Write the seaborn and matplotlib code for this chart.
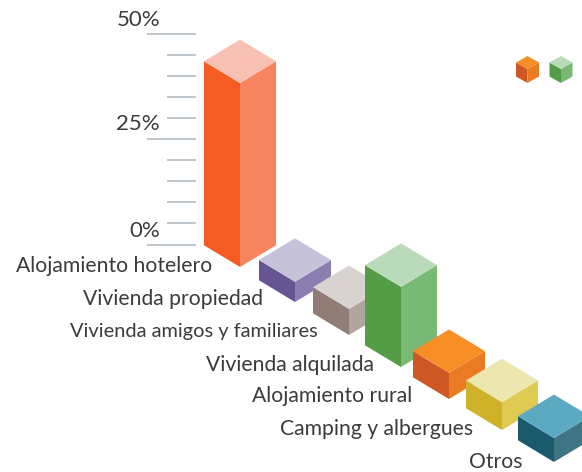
import matplotlib
matplotlib.use('Agg')
import matplotlib.pyplot as plt
from matplotlib.transforms import Affine2D
import pandas as pd
import seaborn as sns

# Values (percent)
categorias = ['Alojamiento hotelero', 'Vivienda propiedad', 'Vivienda amigos y familiares',
              'Vivienda alquilada', 'Alojamiento rural', 'Camping y albergues', 'Otros']
valores = [43.6, 4.8, 6.2, 19.0, 6.2, 6.6, 5.7]
ticks = [0, 5, 10, 15, 20, 25, 30, 35, 40, 45, 50]
etiquetas_eje = ['0%', '25%', '50%']

# Styles
color_izq = ['#F55C23', '#675492', '#917D75', '#559C47', '#CE5723', '#CFB22A', '#1B5A6C']
color_der = ['#F6845E', '#8C7DB0', '#B2A5A0', '#78B973', '#EB7B22', '#DFCB51', '#3E7484']
color_sup = ['#F8C0B2', '#C6C2DA', '#D8D3D1', '#B9DBB9', '#F78F26', '#ECE7AE', '#5CA9C2']

# Layout in image pixels: front-bottom corner of each block
frente_x = [240, 295, 349, 401, 449, 502, 554]
frente_y = [267, 302, 335, 367, 399, 430, 462]
# label anchors (right edge, centre) and size
texto_x = [212, 263, 318, 374, 412, 473, 523]
texto_y = [266, 299, 332, 365, 396, 429, 462]
texto_pt = [15.2, 15.2, 14.4, 15.2, 15.2, 15.2, 15.2]
MEDIO_ANCHO = 36
MEDIO_FONDO = 21.7
PX_POR_PCT = 211 / 50
Y_CERO = 244.5

sns.set_theme(style='white')
plt.rcParams['font.family'] = ['Lato', 'DejaVu Sans']

fig = plt.figure(figsize=(5.82, 4.72), dpi=100)
ax = fig.add_axes([0, 0, 1, 1])

df = pd.DataFrame({'categoria': categorias, 'valor': valores})

# Each face is a normal seaborn bar, sheared afterwards into the isometric view
sns.barplot(data=df, x='categoria', y='valor', hue='categoria', palette=color_izq,
            width=1, linewidth=0, saturation=1, legend=False, ax=ax)
sns.barplot(data=df, x='categoria', y='valor', hue='categoria', palette=color_der,
            width=1, linewidth=0, saturation=1, legend=False, ax=ax)
barras = [p for p in ax.patches if p.get_height() > 0]
izq = barras[:len(categorias)]
der = barras[len(categorias):]

ax.set_xlim(0, 582)
ax.set_ylim(472, 0)
ax.axis('off')


def cara_superior(cx, cy, ancho, fondo, color, z):
    # cx, cy = front corner of the top face
    ax.fill([cx - ancho, cx, cx + ancho, cx], [cy - fondo, cy - 2 * fondo, cy - fondo, cy],
            color=color, lw=0, zorder=z)


for i, valor in enumerate(valores):
    fx, fy = frente_x[i], frente_y[i]
    alto = valor * PX_POR_PCT
    # bar i spans x in [i-0.5, i+0.5], map that to the left and right faces
    m_izq = Affine2D.from_values(MEDIO_ANCHO, MEDIO_FONDO, 0, -PX_POR_PCT,
                                 fx - MEDIO_ANCHO / 2 - i * MEDIO_ANCHO,
                                 fy - MEDIO_FONDO / 2 - i * MEDIO_FONDO)
    m_der = Affine2D.from_values(MEDIO_ANCHO, -MEDIO_FONDO, 0, -PX_POR_PCT,
                                 fx + MEDIO_ANCHO / 2 - i * MEDIO_ANCHO,
                                 fy - MEDIO_FONDO / 2 + i * MEDIO_FONDO)
    izq[i].set_transform(m_izq + ax.transData)
    der[i].set_transform(m_der + ax.transData)
    izq[i].set_zorder(3 + i)
    der[i].set_zorder(3 + i)
    cara_superior(fx, fy - alto, MEDIO_ANCHO, MEDIO_FONDO, color_sup[i], 3 + i)
    ax.text(texto_x[i], texto_y[i], categorias[i], ha='right', va='center',
            fontsize=texto_pt[i], color='#3b3b3b', zorder=20)

# Ruler on the left: long ticks at 0, 25 and 50
for t in ticks:
    py = Y_CERO - t * PX_POR_PCT
    x0 = 147 if t % 25 == 0 else 167
    ax.plot([x0, 196], [py, py], color='#B4BCC2', lw=1.2, zorder=1, solid_capstyle='butt')

for lab, py in zip(etiquetas_eje, [231, 124, 20]):
    ax.text(160, py, lab, ha='right', va='center', fontsize=16, color='#3b3b3b')

# Two small cubes, legend keys without text
for cx, k in [(527.5, 4), (561, 3)]:
    ax.fill([cx - 11.5, cx, cx, cx - 11.5], [62.5, 69, 83, 76.5], color=color_izq[k], lw=0, zorder=5)
    ax.fill([cx, cx + 11.5, cx + 11.5, cx], [69, 62.5, 76.5, 83], color=color_der[k], lw=0, zorder=5)
    cara_superior(cx, 69, 11.5, 6.5, color_sup[k], 5)

fig.savefig('out.png', dpi=100)
